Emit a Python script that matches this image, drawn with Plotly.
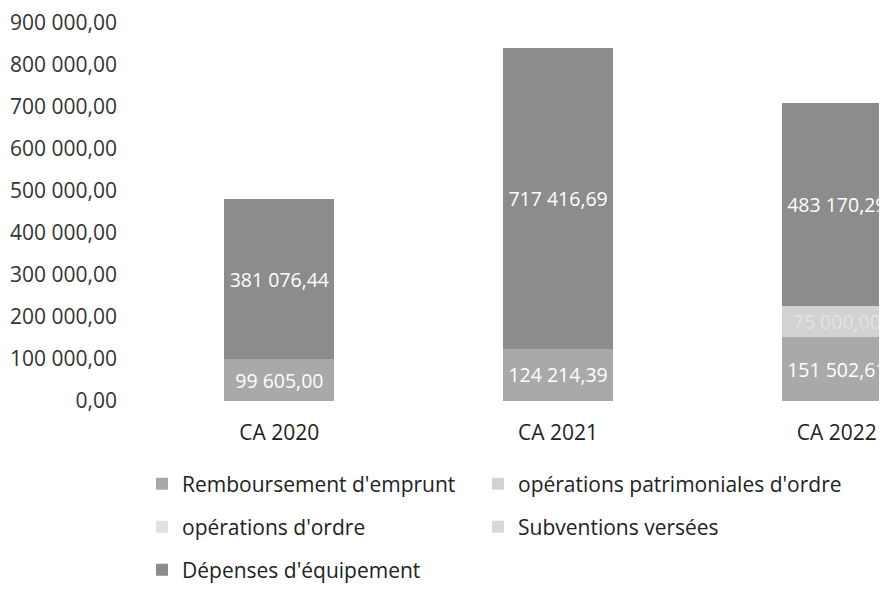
import plotly.graph_objects as go

categories = ["CA 2020", "CA 2021", "CA 2022"]
remboursement = [99605.00, 124214.39, 151502.61]
operations_patrimoniales = [0, 0, 75000.00]
operations_ordre = [0, 0, 0]
subventions = [0, 0, 0]
depenses_equipement = [381076.44, 717416.69, 483170.29]

series_names = [
    "Remboursement d'emprunt",
    "opérations patrimoniales d'ordre",
    "opérations d'ordre",
    "Subventions versées",
    "Dépenses d'équipement",
]
series_values = [remboursement, operations_patrimoniales, operations_ordre, subventions, depenses_equipement]
series_colors = ["#a9a9a9", "#d2d2d2", "#e2e2e2", "#d8d8d8", "#8c8c8c"]
label_colors = ["white", "#e2e2e2", "white", "white", "white"]
series_legends = ["legend", "legend2", "legend3", "legend4", "legend5"]

FONT = "Open Sans"
W, H = 879, 581  # page body keeps an 8 px margin inside the 887x589 window

fig = go.Figure()
for name, vals, col, tcol, lg in zip(series_names, series_values, series_colors, label_colors, series_legends):
    fig.add_trace(go.Bar(
        x=categories, y=vals, name=name,
        marker=dict(color=col, line=dict(width=0)),
        texttemplate=["%{y:,.2f}" if v else "" for v in vals],
        textposition="inside", insidetextanchor="middle",
        textfont=dict(family=FONT, size=19.5, color=tcol),
        legend=lg,
    ))

def legend_at(px, py):
    return dict(
        orientation="h", xref="container", yref="container",
        xanchor="left", yanchor="middle", x=px / W, y=1 - py / H,
        font=dict(family=FONT, size=21, color="#222"),
        bgcolor="rgba(0,0,0,0)",
    )

col1, col2 = 134, 470
row1, row2, row3 = 476, 519, 562

fig.update_layout(
    width=W, height=H,
    margin=dict(l=132, r=0, t=8, b=188),
    paper_bgcolor="white", plot_bgcolor="white",
    barmode="stack", bargap=0.605,
    separators=", ",
    font=dict(family=FONT, color="#222"),
    showlegend=True,
    legend=legend_at(col1, row1),
    legend2=legend_at(col2, row1),
    legend3=legend_at(col1, row2),
    legend4=legend_at(col2, row2),
    legend5=legend_at(col1, row3),
    uniformtext=dict(minsize=19, mode="show"),
)
fig.update_xaxes(
    range=[-0.5, 2.18], showgrid=False, showline=False, zeroline=False,
    ticks="", tickfont=dict(family=FONT, size=21, color="#222"),
    ticklabelstandoff=17,
)
fig.update_yaxes(
    range=[0, 900000], dtick=100000, tick0=0, tickformat=",.2f",
    showgrid=False, showline=False, zeroline=False, ticks="",
    tickfont=dict(family=FONT, size=21, color="#333"),
    ticklabelstandoff=22, ticklabeloverflow="allow",
)

fig.write_html("out.html")
